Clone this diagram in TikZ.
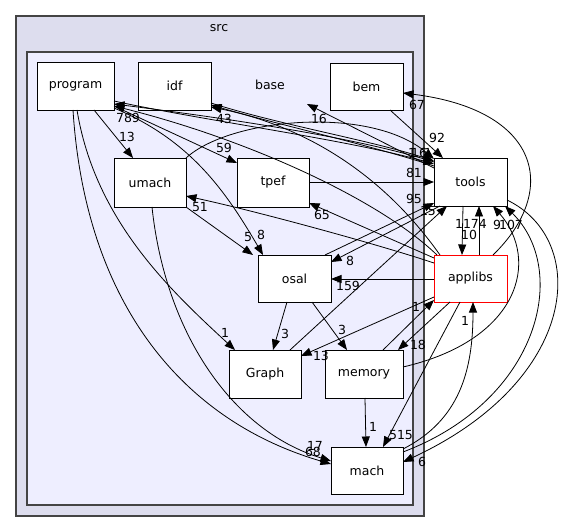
\documentclass[tikz,border=0pt]{standalone}
\usepackage{fontspec}
\setmainfont{DejaVu Sans}
\usetikzlibrary{arrows.meta}
\definecolor{outerfill}{HTML}{DDDDEE}
\definecolor{innerfill}{HTML}{EEEEFF}
\definecolor{clusterline}{HTML}{444444}
\tikzset{
  box/.style={draw=black, fill=white, line width=0.9pt, inner sep=0pt, font=\fontsize{12.5}{14}\selectfont},
  redbox/.style={box, draw=red},
  edge/.style={draw=black, line width=0.8pt, -{Triangle[length=10.5pt,width=8pt]}},
  lab/.style={inner sep=0pt, font=\fontsize{12.5}{14}\selectfont},
  cl/.style={draw=clusterline, line width=1.3pt},
}
\begin{document}
\begin{tikzpicture}[x=1pt,y=-1pt]
\useasboundingbox (0,0) rectangle (571,532);
% clusters
\draw[cl, fill=outerfill] (16,16) rectangle (424,516);
\draw[cl, fill=innerfill] (27,52) rectangle (413,505);
\node[lab] (srclabel) at (219,28) {src};
\node[lab] (baselabel) at (270,85) {base};
\coordinate (baseTip) at (307,104);
% nodes
\node[box, minimum width=77pt, minimum height=48pt] (program) at (75.5,86) {program};
\node[box, minimum width=73pt, minimum height=48pt] (idf) at (174.5,86) {idf};
\node[box, minimum width=73pt, minimum height=47pt] (bem) at (366.5,86.5) {bem};
\node[box, minimum width=72pt, minimum height=49pt] (umach) at (150,182.5) {umach};
\node[box, minimum width=72pt, minimum height=49pt] (tpef) at (273,182.5) {tpef};
\node[box, minimum width=73pt, minimum height=48pt] (tools) at (470.5,182) {tools};
\node[box, minimum width=73pt, minimum height=47pt] (osal) at (294.5,278.5) {osal};
\node[redbox, minimum width=73pt, minimum height=47pt] (applibs) at (470.5,278.5) {applibs};
\node[box, minimum width=72pt, minimum height=48pt] (Graph) at (265,374) {Graph};
\node[box, minimum width=78pt, minimum height=48pt] (memory) at (364,374) {memory};
\node[box, minimum width=72pt, minimum height=47pt] (mach) at (367,470.5) {mach};
% edges from program
\draw[edge] ([shift={(18.5,24)}]program.center) -- ([shift={(-17,-24.5)}]umach.center);
\node[lab] (l13a) at (127,137) {13};
\draw[edge] ([shift={(38.5,20)}]program.center) -- ([shift={(-36,-19.5)}]tpef.center);
\node[lab] (l59) at (224,148) {59};
\draw[edge] ([shift={(38.5,22)}]program.center) .. controls (190,140) and (225,190) .. ([shift={(-31.5,-23.5)}]osal.center);
\node[lab] (l8a) at (261,235) {8};
\draw[edge] ([shift={(1.5,24)}]program.center) .. controls (95,220) and (170,290) .. ([shift={(-30,-24)}]Graph.center);
\node[lab] (l1a) at (225,333) {1};
\draw[edge] ([shift={(-2.5,24)}]program.center) .. controls (85,300) and (180,420) .. ([shift={(-36,-6.5)}]mach.center);
\node[lab] (l68) at (313,452) {68};
\draw[edge] ([shift={(38.5,15)}]program.center) .. controls (200,120) and (350,140) .. ([shift={(-36.5,-18)}]tools.center);
\node[lab] (l1b) at (412,153) {1};
% edges into program
\draw[edge] ([shift={(-36.5,-20)}]tools.center) .. controls (350,135) and (200,115) .. ([shift={(38.5,18)}]program.center);
\node[lab] (l789) at (128,118) {789};
\draw[edge] ([shift={(-33.5,-23.5)}]applibs.center) .. controls (380,200) and (250,140) .. ([shift={(38.5,20)}]program.center);
% idf
\draw[edge] ([shift={(36.5,17)}]idf.center) .. controls (280,125) and (370,140) .. ([shift={(-36.5,-21)}]tools.center);
\node[lab] (l16a) at (419,153) {16};
\draw[edge] ([shift={(-36.5,-16)}]tools.center) .. controls (370,145) and (280,125) .. ([shift={(36.5,19)}]idf.center);
\node[lab] (l43) at (224,119) {43};
\draw[edge] ([shift={(-30.5,-23.5)}]applibs.center) .. controls (380,170) and (300,125) .. ([shift={(36.5,21)}]idf.center);
% umach
\draw[edge] ([shift={(36,-24.5)}]umach.center) .. controls (230,118) and (370,105) .. ([shift={(-36.5,-23)}]tools.center);
\node[lab] (l1c) at (428,153) {1};
\draw[edge] ([shift={(36,24.5)}]umach.center) -- ([shift={(-41.5,-23.5)}]osal.center);
\node[lab] (l5) at (248,237) {5};
\draw[edge] ([shift={(2,24.5)}]umach.center) .. controls (165,330) and (230,430) .. ([shift={(-36,-9.5)}]mach.center);
\node[lab] (l17) at (315,446) {17};
% tpef, bem
\draw[edge] ([shift={(36,-0.5)}]tpef.center) -- ([shift={(-36.5,0)}]tools.center);
\node[lab] (l81) at (414,173) {81};
\draw[edge] ([shift={(23.5,23.5)}]bem.center) -- ([shift={(-27.5,-24)}]tools.center);
\node[lab] (l92) at (437,138) {92};
% tools to base
\draw[edge] ([shift={(-36.5,-14)}]tools.center) -- (baseTip);
\node[lab] (l16b) at (319,119) {16};
% applibs to bem
\draw[edge] ([shift={(22.5,-23.5)}]applibs.center) .. controls (560,190) and (540,110) .. ([shift={(36.5,6.5)}]bem.center);
\node[lab] (l67) at (417,105) {67};
% osal / tools / Graph
\draw[edge] ([shift={(30.5,-23.5)}]osal.center) -- ([shift={(-36.5,21)}]tools.center);
\node[lab] (l95) at (414,199) {95};
\draw[edge] ([shift={(-30.5,24)}]tools.center) -- ([shift={(36.5,-16.5)}]osal.center);
\node[lab] (l8b) at (350,261) {8};
\draw[edge] ([shift={(25,-24)}]Graph.center) -- ([shift={(-23.5,24)}]tools.center);
\node[lab] (l15) at (428,211) {15};
% applibs outgoing
\draw[edge] ([shift={(-36.5,-20.5)}]applibs.center) -- ([shift={(36,20.5)}]tpef.center);
\node[lab] (l65) at (322,215) {65};
\draw[edge] ([shift={(-36.5,-15.5)}]applibs.center) .. controls (380,245) and (260,212) .. ([shift={(36,13.5)}]umach.center);
\node[lab] (l51) at (200,207) {51};
\draw[edge] ([shift={(-36.5,0.5)}]applibs.center) -- ([shift={(36.5,0.5)}]osal.center);
\node[lab] (l159) at (348,286) {159};
\draw[edge] ([shift={(8.5,-23.5)}]applibs.center) -- ([shift={(8.5,24)}]tools.center);
\node[lab] (l1174) at (471,224) {1174};
\draw[edge] ([shift={(-7.5,24)}]tools.center) -- ([shift={(-8.5,-23.5)}]applibs.center);
\node[lab] (l10) at (469,235) {10};
\draw[edge] ([shift={(-10.5,23.5)}]applibs.center) -- ([shift={(16,-23.5)}]mach.center);
\node[lab] (l515) at (401,435) {515};
\draw[edge] ([shift={(-20.5,23.5)}]applibs.center) -- ([shift={(34,-24)}]memory.center);
\node[lab] (l18) at (418,345) {18};
\draw[edge] ([shift={(-36.5,18.5)}]applibs.center) -- ([shift={(36,-18)}]Graph.center);
\node[lab] (l13b) at (321,356) {13};
% memory / mach
\draw[edge] ([shift={(19,-24)}]memory.center) -- ([shift={(-36.5,21.5)}]applibs.center);
\node[lab] (l1d) at (416,307) {1};
\draw[edge] ([shift={(39,-7)}]memory.center) .. controls (520,340) and (540,260) .. ([shift={(22.5,24)}]tools.center);
\node[lab] (l9) at (497,225) {9};
\draw[edge] ([shift={(36,-18.5)}]mach.center) .. controls (540,400) and (570,270) .. ([shift={(34.5,24)}]tools.center);
\node[lab] (l107) at (511,225) {107};
\draw[edge] ([shift={(36.5,18)}]tools.center) .. controls (590,240) and (580,380) .. ([shift={(36,-8.5)}]mach.center);
\node[lab] (l6) at (422,462) {6};
\draw[edge] ([shift={(36,-21.5)}]mach.center) .. controls (460,420) and (473,370) .. ([shift={(2.5,23.5)}]applibs.center);
\node[lab] (l1e) at (465,321) {1};
\draw[edge] ([shift={(-7.5,23.5)}]osal.center) -- ([shift={(8,-24)}]Graph.center);
\node[lab] (l3a) at (285,334) {3};
\draw[edge] ([shift={(17.5,23.5)}]osal.center) -- ([shift={(-17,-24)}]memory.center);
\node[lab] (l3b) at (342,330) {3};
\draw[edge] ([shift={(1,24)}]memory.center) -- ([shift={(-1,-23.5)}]mach.center);
\node[lab] (l1f) at (373,427) {1};
\end{tikzpicture}
\end{document}
